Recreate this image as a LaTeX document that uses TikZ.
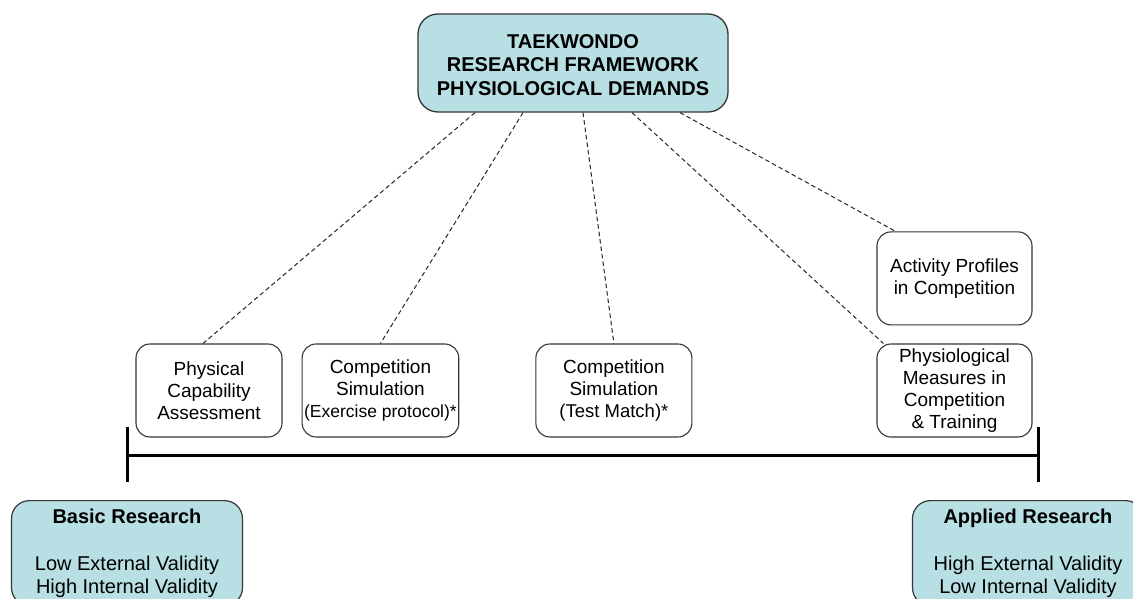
\documentclass[tikz,border=0pt]{standalone}
\usepackage{fontspec}
\setmainfont{Liberation Sans}
\usetikzlibrary{positioning}

\definecolor{panel}{RGB}{184,223,227}
\definecolor{edge}{RGB}{55,55,55}

\begin{document}
\begin{tikzpicture}[
  x=1pt, y=-1pt,
  cell/.style={rectangle, rounded corners=14pt, draw=edge, line width=1.1pt,
               fill=white, minimum width=156pt, minimum height=93pt, inner sep=2pt,
               align=center, font={\fontsize{19}{22}\selectfont}},
  banner/.style={rectangle, rounded corners=20pt, draw=edge, line width=1.3pt,
                 fill=panel, minimum width=310pt, minimum height=98pt,
                 align=center, font={\bfseries\fontsize{20}{23.5}\selectfont}},
  pole/.style={rectangle, rounded corners=18pt, draw=edge, line width=1.2pt,
               fill=panel, minimum width=231pt, inner xsep=4pt, inner ysep=8pt,
               anchor=north, align=center, font={\fontsize{20}{23.5}\selectfont}},
  link/.style={dash pattern=on 4.5pt off 3pt, line width=1pt, draw=black!85},
  axis/.style={line width=3pt, draw=black}
]
\useasboundingbox[fill=white] (0,0) rectangle (1133,599);

% ── header ───────────────────────────────────────────────────────────────────
\node[banner] (frame) at (573,63) {\\[-6pt]TAEKWONDO\\RESEARCH FRAMEWORK\\PHYSIOLOGICAL DEMANDS};

% ── study types ──────────────────────────────────────────────────────────────
\node[cell, minimum width=146pt] (phys) at (209,390.5) {Physical\\Capability\\Assessment};
\node[cell, right=19pt of phys] (exer) {Competition\\Simulation\\{\fontsize{17.5}{22}\selectfont(Exercise protocol)*}};
\node[cell, right=76pt of exer] (test) {Competition\\Simulation\\{\fontsize{18.5}{22}\selectfont(Test Match)*}};
\node[cell, minimum width=155pt, right=184pt of test] (meas) {Physiological\\Measures in\\Competition\\\& Training};
\node[cell, minimum width=155pt, above=18pt of meas] (act) {Activity Profiles\\in Competition};

% ── research continuum ───────────────────────────────────────────────────────
\coordinate (lo) at (127,455);
\coordinate (hi) at (1038,455);
\draw[axis] (lo) -- (hi);
\draw[axis] ([yshift=28pt]lo) -- ([yshift=-27pt]lo);
\draw[axis] ([yshift=28pt]hi) -- ([yshift=-27pt]hi);

\node[pole] (basic) at (127,500) {\textbf{Basic Research}\\[23.5pt]Low External Validity\\High Internal Validity};
\node[pole] (applied) at (1028,500) {\textbf{Applied Research}\\[23.5pt]High External Validity\\Low Internal Validity};

% ── dashed links ─────────────────────────────────────────────────────────────
\draw[link] ([xshift=-98pt]frame.south) -- ([xshift=-6pt]phys.north);
\draw[link] ([xshift=-50pt]frame.south) -- (exer.north);
\draw[link] ([xshift=10pt]frame.south) -- (test.north);
\draw[link] ([xshift=59pt]frame.south) -- ([xshift=7pt]meas.north west);
\draw[link] ([xshift=107pt]frame.south) -- ([xshift=19pt]act.north west);
\end{tikzpicture}
\end{document}
